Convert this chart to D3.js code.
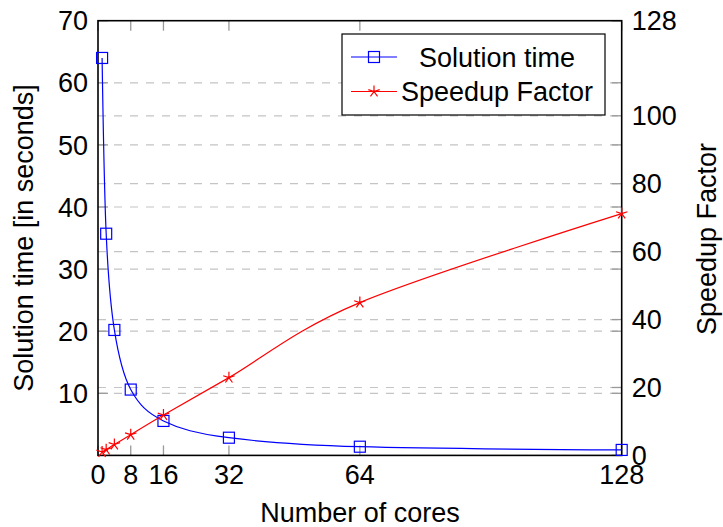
<!DOCTYPE html>
<html>
<head>
<meta charset="utf-8">
<script src="https://cdn.jsdelivr.net/npm/d3@7"></script>
<style>
  body { margin: 0; background: #fff; }
  text { font-family: "Liberation Sans", Arial, sans-serif; fill: #000; }
</style>
</head>
<body>
<div id="chart"></div>
<script>
const cores = [1, 2, 4, 8, 16, 32, 64, 128];
const solutionTime = [64, 35.7, 20.2, 10.6, 5.55, 2.85, 1.4, 0.88];
const speedup = [1, 1.7, 3.2, 6.1, 11.9, 22.9, 45, 71.2];

const xTicks = [0, 8, 16, 32, 64, 128];
const leftTicks = [10, 20, 30, 40, 50, 60, 70];
const rightTicks = [0, 20, 40, 60, 80, 100, 128];

const seriesNames = ["Solution time", "Speedup Factor"];

const margin = {top: 20.7, right: 101.3, bottom: 71.6, left: 98},
      width = 723 - margin.left - margin.right,
      height = 527 - margin.top - margin.bottom;

const svg = d3.select("#chart")
  .append("svg")
  .attr("width", 723)
  .attr("height", 527);

const g = svg.append("g")
  .attr("transform", `translate(${margin.left},${margin.top})`);

const x = d3.scaleLinear().domain([0, 128]).range([0, width]);
const yL = d3.scaleLinear().domain([0, 70]).range([height, 0]);
const yR = d3.scaleLinear().domain([0, 128]).range([height, 0]);

const fs = 27;
const gridColor = "#c4c4c4";
const tickColor = "#9a9a9a";

// grid lines (dashed)
g.selectAll(".gridL")
  .data(leftTicks.filter(t => t > 0 && t < 70))
  .enter().append("line")
  .attr("x1", 0).attr("x2", width)
  .attr("y1", d => yL(d)).attr("y2", d => yL(d))
  .attr("stroke", gridColor).attr("stroke-width", 1.2)
  .attr("stroke-dasharray", "8,8");

g.selectAll(".gridR")
  .data(rightTicks.filter(t => t > 0 && t < 128))
  .enter().append("line")
  .attr("x1", 0).attr("x2", width)
  .attr("y1", d => yR(d)).attr("y2", d => yR(d))
  .attr("stroke", gridColor).attr("stroke-width", 1.2)
  .attr("stroke-dasharray", "8,8");

// tick marks (inward, gray)
const tl = 10;
xTicks.forEach(t => {
  g.append("line").attr("x1", x(t)).attr("x2", x(t))
    .attr("y1", height).attr("y2", height - tl)
    .attr("stroke", tickColor).attr("stroke-width", 1.3);
  g.append("line").attr("x1", x(t)).attr("x2", x(t))
    .attr("y1", 0).attr("y2", tl)
    .attr("stroke", tickColor).attr("stroke-width", 1.3);
});
leftTicks.forEach(t => {
  g.append("line").attr("x1", 0).attr("x2", tl)
    .attr("y1", yL(t)).attr("y2", yL(t))
    .attr("stroke", tickColor).attr("stroke-width", 1.3);
  g.append("line").attr("x1", width - tl).attr("x2", width)
    .attr("y1", yL(t)).attr("y2", yL(t))
    .attr("stroke", tickColor).attr("stroke-width", 1.3);
});
rightTicks.forEach(t => {
  g.append("line").attr("x1", width - tl).attr("x2", width)
    .attr("y1", yR(t)).attr("y2", yR(t))
    .attr("stroke", tickColor).attr("stroke-width", 1.3);
});

// frame
g.append("rect")
  .attr("width", width).attr("height", height)
  .attr("fill", "none").attr("stroke", "#000").attr("stroke-width", 1.6);

// tick labels
g.selectAll(".xl").data(xTicks).enter().append("text")
  .attr("x", d => x(d)).attr("y", height + 29)
  .attr("text-anchor", "middle").attr("font-size", fs)
  .text(d => d);

g.selectAll(".yl").data(leftTicks).enter().append("text")
  .attr("x", -10).attr("y", d => yL(d) + 9.7)
  .attr("text-anchor", "end").attr("font-size", fs)
  .text(d => d);

g.selectAll(".yr").data(rightTicks).enter().append("text")
  .attr("x", width + 10).attr("y", d => yR(d) + 9.7)
  .attr("text-anchor", "start").attr("font-size", fs)
  .text(d => d);

// axis labels
svg.append("text")
  .attr("x", 360).attr("y", 522)
  .attr("text-anchor", "middle").attr("font-size", fs)
  .text("Number of cores");

svg.append("text")
  .attr("transform", "translate(33,238) rotate(-90)")
  .attr("text-anchor", "middle").attr("font-size", fs)
  .text("Solution time [in seconds]");

svg.append("text")
  .attr("transform", "translate(716,239) rotate(-90)")
  .attr("text-anchor", "middle").attr("font-size", fs)
  .text("Speedup Factor");

// series
const timeData = cores.map((c, i) => ({x: c, y: solutionTime[i]}));
const speedData = cores.map((c, i) => ({x: c, y: speedup[i]}));

const lineL = d3.line().x(d => x(d.x)).y(d => yL(d.y)).curve(d3.curveCardinal);
const lineR = d3.line().x(d => x(d.x)).y(d => yR(d.y)).curve(d3.curveCardinal);

g.append("path").datum(timeData)
  .attr("d", lineL).attr("fill", "none")
  .attr("stroke", "#0000ff").attr("stroke-width", 1.2);

const sq = 11;
g.selectAll(".sq").data(timeData).enter().append("rect")
  .attr("x", d => x(d.x) - sq / 2).attr("y", d => yL(d.y) - sq / 2)
  .attr("width", sq).attr("height", sq)
  .attr("fill", "none").attr("stroke", "#0000ff").attr("stroke-width", 1.2);

g.append("path").datum(speedData)
  .attr("d", lineR).attr("fill", "none")
  .attr("stroke", "#ff0000").attr("stroke-width", 1.2);

function starPath(cx, cy, r) {
  let p = "";
  for (let k = 0; k < 5; k++) {
    const a = -Math.PI / 2 + k * 2 * Math.PI / 5;
    p += `M${cx},${cy}L${cx + r * Math.cos(a)},${cy + r * Math.sin(a)}`;
  }
  return p;
}

g.selectAll(".star").data(speedData).enter().append("path")
  .attr("d", d => starPath(x(d.x), yR(d.y), 6))
  .attr("fill", "none").attr("stroke", "#ff0000").attr("stroke-width", 1.2);

// legend
const leg = svg.append("g");
leg.append("rect")
  .attr("x", 342).attr("y", 34).attr("width", 263).attr("height", 81)
  .attr("fill", "#fff").attr("stroke", "#000").attr("stroke-width", 1.2);

const legY = [57, 91.5];
const legColor = ["#0000ff", "#ff0000"];
seriesNames.forEach((name, i) => {
  leg.append("line")
    .attr("x1", 351).attr("x2", 397)
    .attr("y1", legY[i]).attr("y2", legY[i])
    .attr("stroke", legColor[i]).attr("stroke-width", 1.2);
  if (i === 0) {
    leg.append("rect")
      .attr("x", 374 - sq / 2).attr("y", legY[i] - sq / 2)
      .attr("width", sq).attr("height", sq)
      .attr("fill", "none").attr("stroke", legColor[i]).attr("stroke-width", 1.2);
  } else {
    leg.append("path")
      .attr("d", starPath(374, legY[i], 6))
      .attr("fill", "none").attr("stroke", legColor[i]).attr("stroke-width", 1.2);
  }
  leg.append("text")
    .attr("x", 497).attr("y", legY[i] + 9.7)
    .attr("text-anchor", "middle").attr("font-size", fs)
    .text(name);
});
</script>
</body>
</html>
